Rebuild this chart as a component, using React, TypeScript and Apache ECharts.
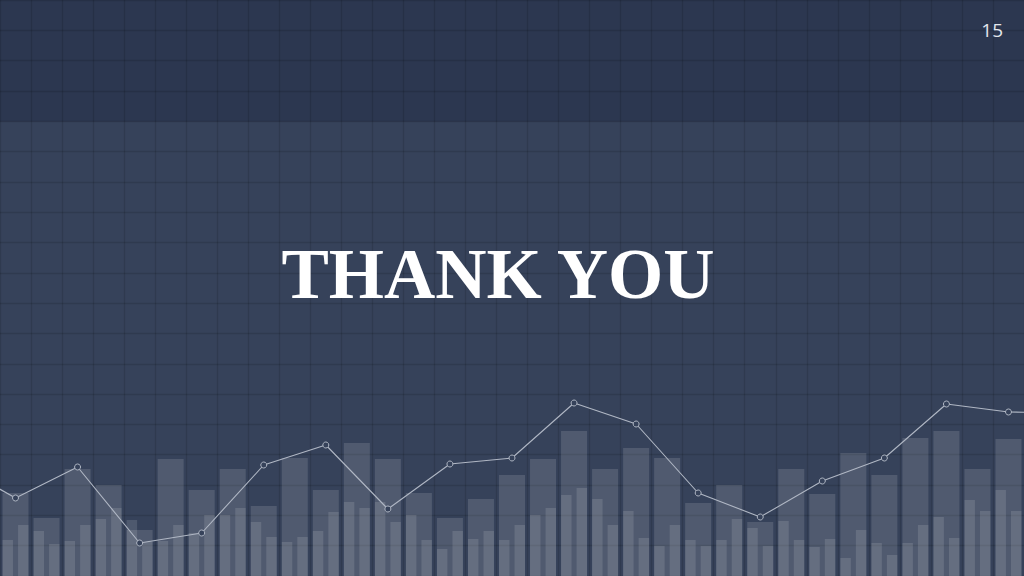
import * as echarts from 'echarts';
import React, { useEffect, useRef } from 'react';

// bar heights (units = px from bottom of a 576 high chart)
const categories = Array.from({ length: 33 }, (_, i) => `C${i + 1}`);
const wideValues = [
  83, 58, 107, 91, 46, 117, 86, 107, 70, 118, 86, 133, 117, 83, 58, 77, 101,
  117, 145, 107, 128, 118, 73, 91, 54, 107, 82, 123, 101, 138, 145, 107, 137,
];
const leftValues = [
  36, 45, 35, 57, 56, 35, 43, 61, 54, 34, 45, 74, 74, 61, 27, 37, 36, 61, 81,
  77, 65, 30, 36, 36, 48, 55, 29, 18, 33, 33, 59, 76, 86,
];
const rightValues = [
  51, 32, 51, 68, 34, 51, 61, 68, 39, 39, 64, 68, 54, 36, 45, 45, 51, 68, 88,
  51, 38, 51, 30, 57, 30, 36, 37, 46, 21, 51, 38, 65, 65,
];
// trend line, one point every second category starting one step before the
// first bar (first and last points lie off-slide)
const lineValues = [
  113, 78, 109, 33, 43, 111, 131, 67, 112, 118, 173, 152, 83, 59, 95, 118, 172,
  164, 163,
];
const titleText = 'THANK YOU';
const pageNumber = '15';

const BG = '#36425a';
const BAND = '#2c3750';
const LINE = '#b0b7c4';
const GRIDLINE = 'rgba(0,0,0,0.12)';

const App: React.FC = () => {
  const chartRef = useRef<HTMLDivElement>(null);

  useEffect(() => {
    if (!chartRef.current) return;
    const chart = echarts.init(chartRef.current, undefined, { renderer: 'svg' });

    // category index of each line point: -2, 0, 2, ... 34
    const lineData = lineValues.map((v, i) => [i * 2 - 2, v]);

    const option: echarts.EChartsOption = {
      animation: false,
      backgroundColor: BG,
      grid: [
        { left: 0, right: 0, top: 0, bottom: 0 },
        { left: 0, right: 0, top: 0, bottom: 0 },
      ],
      xAxis: [
        { type: 'category', gridIndex: 0, data: categories, show: false },
        { type: 'category', gridIndex: 0, data: categories, show: false },
        {
          type: 'value',
          gridIndex: 1,
          min: 0,
          max: categories.length,
          interval: 1,
          axisLine: { show: false },
          axisTick: { show: false },
          axisLabel: { show: false },
          splitLine: { show: true, lineStyle: { color: GRIDLINE, width: 1.3 } },
        },
        {
          type: 'value',
          gridIndex: 0,
          min: -0.5,
          max: categories.length - 0.5,
          show: false,
          splitLine: { show: false },
        },
      ],
      yAxis: [
        { type: 'value', gridIndex: 0, min: 0, max: 576, show: false },
        {
          type: 'value',
          gridIndex: 1,
          min: 0,
          max: 19,
          interval: 1,
          axisLine: { show: false },
          axisTick: { show: false },
          axisLabel: { show: false },
          splitLine: { show: true, lineStyle: { color: GRIDLINE, width: 1.3 } },
        },
      ],
      graphic: [
        {
          type: 'rect',
          z: -1,
          shape: { x: 0, y: 0, width: 1024, height: 121.5 },
          style: { fill: BAND },
        },
        {
          type: 'text',
          z: 100,
          x: 498,
          y: 274,
          style: {
            text: titleText,
            fill: '#ffffff',
            font: 'bold 71px "Liberation Serif", serif',
            textAlign: 'center',
            textVerticalAlign: 'middle',
          },
        },
        {
          type: 'text',
          z: 100,
          x: 1003,
          y: 30,
          style: {
            text: pageNumber,
            fill: '#e4e7ec',
            font: '19px "Open Sans", sans-serif',
            textAlign: 'right',
            textVerticalAlign: 'middle',
          },
        },
      ],
      series: [
        {
          type: 'bar',
          xAxisIndex: 0,
          yAxisIndex: 0,
          data: wideValues,
          barWidth: 26,
          itemStyle: { color: 'rgba(255,255,255,0.13)' },
          silent: true,
        },
        {
          type: 'bar',
          xAxisIndex: 1,
          yAxisIndex: 0,
          data: leftValues,
          barWidth: 10.5,
          barGap: '48%',
          itemStyle: { color: 'rgba(255,255,255,0.12)' },
          silent: true,
        },
        {
          type: 'bar',
          xAxisIndex: 1,
          yAxisIndex: 0,
          data: rightValues,
          barWidth: 10.5,
          barGap: '48%',
          itemStyle: { color: 'rgba(255,255,255,0.12)' },
          silent: true,
        },
        {
          type: 'line',
          xAxisIndex: 3,
          yAxisIndex: 0,
          data: lineData,
          symbol: 'circle',
          symbolSize: 6,
          showAllSymbol: true,
          clip: true,
          lineStyle: { color: LINE, width: 1.1 },
          itemStyle: { color: BG, borderColor: LINE, borderWidth: 1 },
          z: 5,
          silent: true,
        },
      ],
    };

    chart.setOption(option);
    return () => chart.dispose();
  }, []);

  return (
    <div
      ref={chartRef}
      style={{ position: 'fixed', left: 0, top: 0, width: '1024px', height: '576px' }}
    />
  );
};

export default App;
